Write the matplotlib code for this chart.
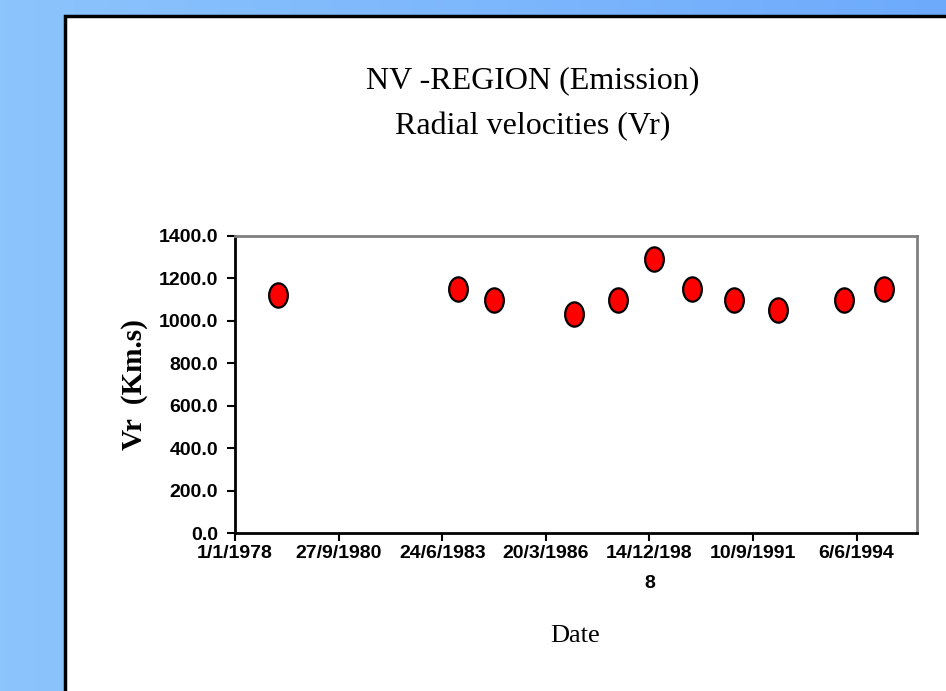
import numpy as np
import pandas as pd
import matplotlib
matplotlib.use("Agg")
import matplotlib.pyplot as plt
from matplotlib.path import Path
from matplotlib.transforms import Affine2D
from matplotlib.patches import Rectangle
from matplotlib.colors import LinearSegmentedColormap

obs_dates = ['1979-02-20', '1983-11-23', '1984-11-04', '1986-12-16', '1988-02-14',
             '1989-01-27', '1990-01-30', '1991-03-12', '1992-05-08', '1994-02-04',
             '1995-02-23']
vr = [1120, 1150, 1100, 1030, 1100, 1290, 1150, 1100, 1050, 1100, 1150]

# Excel-style date axis: a tick every 1000 days from 1/1/1978
tick_start = '1978-01-01'
tick_step_days = 1000
tick_labels = ['1/1/1978', '27/9/1980', '24/6/1983', '20/3/1986',
               '14/12/198\n8', '10/9/1991', '6/6/1994']
x_end = '1996-01-10'
y_ticks = [0, 200, 400, 600, 800, 1000, 1200, 1400]

fig = plt.figure(figsize=(9.46, 6.91), dpi=100)

# blue gradient slide background
bg = fig.add_axes([0, 0, 1, 1], zorder=-10)
grad = np.linspace(0, 1, 256).reshape(1, -1)
cmap = LinearSegmentedColormap.from_list('slide', ['#8cc4fc', '#6eaafc'])
bg.imshow(grad, aspect='auto', cmap=cmap, extent=[0, 1, 0, 1])
bg.set_xlim(0, 1)
bg.set_ylim(0, 1)
bg.axis('off')

# white panel with black border
panel = Rectangle((65 / 946, -0.05), 1.0, 1 - 16 / 691 + 0.05,
                  transform=fig.transFigure, facecolor='white',
                  edgecolor='black', linewidth=2.5, zorder=-5)
fig.patches.append(panel)

ax = fig.add_axes([235 / 946, 1 - 533 / 691, (917 - 235) / 946, (533 - 236) / 691])
ax.set_facecolor('white')

x = pd.to_datetime(obs_dates)
ellipse = Path.unit_circle().transformed(Affine2D().scale(1.0, 1.3))
ax.plot(x, vr, linestyle='none', marker=ellipse, markersize=17.5,
        markerfacecolor='#ff0000', markeredgecolor='black', markeredgewidth=1.6,
        clip_on=False)

t0 = pd.Timestamp(tick_start)
xticks = [t0 + pd.Timedelta(days=tick_step_days * i) for i in range(len(tick_labels))]
ax.set_xticks(xticks)
ax.set_xticklabels(tick_labels, fontname='Liberation Sans', fontweight='bold',
                   fontsize=14, linespacing=2.0, va='top')
ax.set_xlim(t0, pd.Timestamp(x_end))

ax.set_ylim(0, 1400)
ax.set_yticks(y_ticks)
ax.set_yticklabels([f'{v:.1f}' for v in y_ticks], fontname='Liberation Sans',
                   fontweight='bold', fontsize=14)

ax.tick_params(axis='x', direction='out', length=6, width=1.5, pad=3, colors='black')
ax.tick_params(axis='y', direction='out', length=6, width=1.5, pad=6, colors='black')

for side in ['left', 'bottom']:
    ax.spines[side].set_color('black')
    ax.spines[side].set_linewidth(2)
for side in ['top', 'right']:
    ax.spines[side].set_color('#808080')
    ax.spines[side].set_linewidth(2)

fig.text(533 / 946, 1 - 81 / 691, 'NV -REGION (Emission)', fontname='Liberation Serif',
         fontsize=23, ha='center', va='center')
fig.text(533 / 946, 1 - 127 / 691, 'Radial velocities (Vr)', fontname='Liberation Serif',
         fontsize=23, ha='center', va='center')
fig.text(575 / 946, 1 - 636 / 691, 'Date', fontname='Liberation Serif',
         fontsize=19, ha='center', va='center')
fig.text(134 / 946, 1 - 385 / 691, 'Vr  (Km.s)', fontname='Liberation Serif',
         fontweight='bold', fontsize=21, ha='center', va='center', rotation=90)

fig.savefig('out.png', dpi=100)
